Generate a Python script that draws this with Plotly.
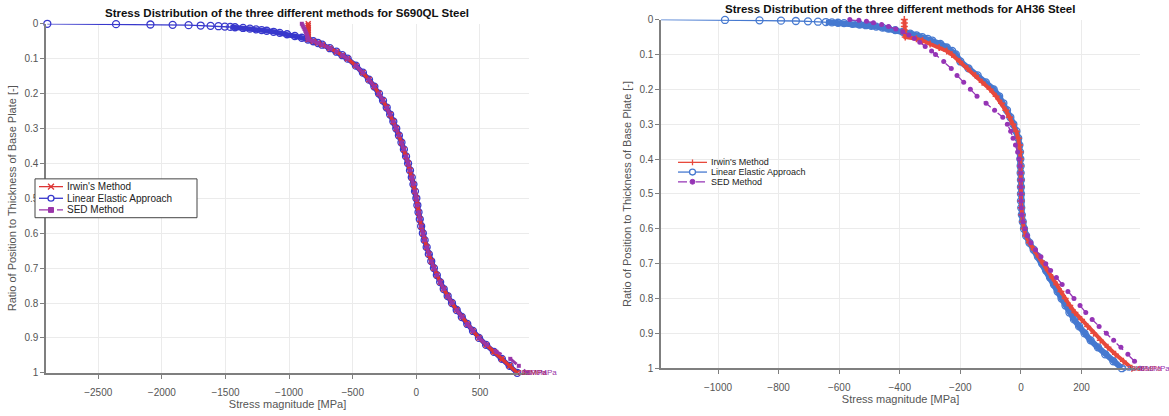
import plotly.graph_objects as go

# ---------------- S690QL steel ----------------
t_s690_linear = [0, 0.001, 0.002, 0.003, 0.004, 0.005, 0.006, 0.007, 0.008, 0.009,
                 0.010, 0.012, 0.014, 0.016, 0.018, 0.020, 0.023, 0.026, 0.030, 0.035,
                 0.040, 0.045, 0.050, 0.055, 0.060, 0.070, 0.080, 0.090, 0.10,
                 0.12, 0.14, 0.16, 0.18, 0.20, 0.22, 0.24, 0.26, 0.28, 0.30,
                 0.32, 0.34, 0.36, 0.38, 0.40, 0.42, 0.44, 0.46, 0.48, 0.50,
                 0.52, 0.54, 0.56, 0.58, 0.60, 0.62, 0.64, 0.66, 0.68, 0.70,
                 0.72, 0.74, 0.76, 0.78, 0.80, 0.82, 0.84, 0.86, 0.88, 0.90,
                 0.92, 0.94, 0.96, 0.98, 1.00]
s690_linear = [-2900, -2360, -2090, -1915, -1790, -1695, -1617, -1555, -1505, -1462,
               -1425, -1362, -1308, -1260, -1216, -1176, -1122, -1074, -1016, -955,
               -900, -852, -810, -773, -740, -680, -628, -582, -540,
               -475, -420, -372, -330, -294, -262, -233, -206, -181, -158,
               -137, -117, -98, -81, -65, -50, -36, -23, -11, 0,
               8, 17, 27, 38, 51, 65, 81, 98, 117, 138,
               161, 187, 215, 246, 280, 317, 357, 400, 445, 492,
               548, 610, 672, 733, 793]

t_s690_irwin = [0, 0.005, 0.010, 0.015, 0.020, 0.025, 0.030, 0.035, 0.040, 0.045,
                0.050, 0.055, 0.060, 0.070, 0.080, 0.090, 0.10,
                0.12, 0.14, 0.16, 0.18, 0.20, 0.22, 0.24, 0.26, 0.28, 0.30,
                0.32, 0.34, 0.36, 0.38, 0.40, 0.42, 0.44, 0.46, 0.48, 0.50,
                0.52, 0.54, 0.56, 0.58, 0.60, 0.62, 0.64, 0.66, 0.68, 0.70,
                0.72, 0.74, 0.76, 0.78, 0.80, 0.82, 0.84, 0.86, 0.88, 0.90,
                0.92, 0.94, 0.96, 0.98, 1.00]
s690_irwin = [-850, -850, -850, -850, -850, -850, -850, -850, -850, -850,
              -810, -773, -740, -680, -628, -582, -540,
              -475, -420, -372, -330, -294, -262, -233, -206, -181, -158,
              -137, -117, -98, -81, -65, -50, -36, -23, -11, 0,
              8, 17, 27, 38, 51, 65, 81, 98, 117, 138,
              161, 187, 215, 246, 280, 317, 357, 400, 445, 492,
              548, 610, 672, 733, 793]

t_s690_sed = [-0.050, -0.040, -0.030, -0.020, -0.010, 0, 0.005, 0.010, 0.015, 0.020,
              0.025, 0.030, 0.035, 0.040, 0.045,
              0.050, 0.055, 0.060, 0.070, 0.080, 0.090, 0.10,
              0.12, 0.14, 0.16, 0.18, 0.20, 0.22, 0.24, 0.26, 0.28, 0.30,
              0.32, 0.34, 0.36, 0.38, 0.40, 0.42, 0.44, 0.46, 0.48, 0.50,
              0.52, 0.54, 0.56, 0.58, 0.60, 0.62, 0.64, 0.66, 0.68, 0.70,
              0.72, 0.74, 0.76, 0.78, 0.80, 0.82, 0.84, 0.86, 0.88, 0.90,
              0.92, 0.94, 0.96, 0.98, 1.00]
s690_sed = [-965, -955, -943, -930, -915, -900, -893, -886, -879, -873,
            -867, -862, -858, -854, -851,
            -810, -773, -740, -680, -628, -582, -540,
            -475, -420, -372, -330, -294, -262, -233, -206, -181, -158,
            -137, -117, -98, -81, -65, -50, -36, -23, -11, 0,
            8, 17, 27, 38, 51, 65, 81, 98, 117, 138,
            161, 187, 215, 246, 280, 317, 357, 400, 445, 492,
            555, 630, 738, 805, 870]

# ---------------- AH36 steel ----------------
t_ah36_linear = [0, 0.001, 0.002, 0.003, 0.004, 0.005, 0.006, 0.007, 0.008, 0.009,
                 0.010, 0.012, 0.014, 0.016, 0.018, 0.020, 0.023, 0.026, 0.030, 0.035,
                 0.040, 0.045, 0.050, 0.055, 0.060, 0.070, 0.080, 0.090, 0.10,
                 0.12, 0.14, 0.16, 0.18, 0.20, 0.22, 0.24, 0.26, 0.28, 0.30,
                 0.32, 0.34, 0.36, 0.38, 0.40, 0.42, 0.44, 0.46, 0.48, 0.50,
                 0.52, 0.54, 0.56, 0.58, 0.60, 0.62, 0.64, 0.66, 0.68, 0.70,
                 0.72, 0.74, 0.76, 0.78, 0.80, 0.82, 0.84, 0.86, 0.88, 0.90,
                 0.92, 0.94, 0.96, 0.98, 1.00]
ah36_linear = [-1190, -977, -863, -792, -743, -703, -670, -644, -624, -604,
               -584, -556, -533, -512, -494, -478, -457, -438, -415, -390,
               -366, -345, -326, -308, -293, -266, -245, -227, -215,
               -200, -173, -143, -116, -90, -72, -58, -46, -35, -25,
               -15, -9, -5, -3, -2, -1, -1, 0, 0, 0,
               0, 1, 3, 6, 10, 17, 28, 42, 56, 70,
               83, 96, 109, 121, 134, 147, 160, 175, 192, 210,
               230, 254, 278, 305, 333]

t_ah36_irwin = [0, 0.010, 0.020, 0.030, 0.040, 0.050, 0.055, 0.060, 0.070, 0.080, 0.090, 0.10,
                0.12, 0.14, 0.16, 0.18, 0.20, 0.22, 0.24, 0.26, 0.28, 0.30,
                0.32, 0.34, 0.36, 0.38, 0.40, 0.42, 0.44, 0.46, 0.48, 0.50,
                0.52, 0.54, 0.56, 0.58, 0.60, 0.62, 0.64, 0.66, 0.68, 0.70,
                0.72, 0.74, 0.76, 0.78, 0.80, 0.82, 0.84, 0.86, 0.88, 0.90,
                0.92, 0.94, 0.96, 0.98, 1.00]
ah36_irwin = [-385, -385, -385, -385, -385, -382, -345, -325, -300, -270, -245, -228,
              -202, -176, -150, -128, -102, -82, -64, -50, -38, -27,
              -16, -9, -5, -3, -2, -1, -1, 0, 0, 0,
              0, 1, 3, 6, 10, 17, 28, 43, 60, 76,
              90, 104, 118, 132, 146, 161, 178, 200, 220, 240,
              262, 287, 312, 338, 366]

t_ah36_sed = [0, 0.002, 0.005, 0.009, 0.014, 0.020, 0.027, 0.035, 0.044, 0.054,
              0.065, 0.077, 0.090, 0.10,
              0.12, 0.14, 0.16, 0.18, 0.20, 0.22, 0.24, 0.26, 0.28, 0.30,
              0.32, 0.34, 0.36, 0.38, 0.40, 0.42, 0.44, 0.46, 0.48, 0.50,
              0.52, 0.54, 0.56, 0.58, 0.60, 0.62, 0.64, 0.66, 0.68, 0.70,
              0.72, 0.74, 0.76, 0.78, 0.80, 0.82, 0.84, 0.86, 0.88, 0.90,
              0.92, 0.94, 0.96, 0.98, 1.00]
ah36_sed = [-565, -535, -510, -487, -460, -437, -413, -390, -370, -352,
            -334, -316, -295, -282,
            -255, -230, -211, -189, -167, -145, -115, -87, -60, -45,
            -34, -26, -18, -11, -6, -3, -1, 0, 0, 0,
            0, 1, 3, 7, 13, 21, 33, 48, 66, 82,
            98, 117, 136, 155, 175, 195, 214, 235, 258, 282,
            306, 330, 353, 375, 393]

method_names = ["Irwin's Method", "Linear Elastic Approach", "SED Method"]

# tick positions along the thickness axis
y_ticks = [0, 0.1, 0.2, 0.3, 0.4, 0.5, 0.6, 0.7, 0.8, 0.9, 1]
y_tick_text = ["0", "0.1", "0.2", "0.3", "0.4", "0.5", "0.6", "0.7", "0.8", "0.9", "1"]
x_ticks_s690 = [-2500, -2000, -1500, -1000, -500, 0, 500]
x_ticks_ah36 = [-1000, -800, -600, -400, -200, 0, 200]

W, H = 1169, 416
FONT = "Liberation Sans, Arial, Helvetica, sans-serif"
GRID = "#ebebeb"
AXIS = "#7f7f7f"
LABEL = "#555555"
TICKFONT = dict(family=FONT, size=10, color=LABEL)

c_red_l, c_blue_l, c_pur_l = "#dd3535", "#3838cc", "#9a35a8"
c_red_r, c_blue_r, c_pur_r = "#e8493c", "#4679d0", "#9534b5"

fig = go.Figure()


def add_series(x, y, xa, ya, color, width, marker, dash="solid", band_from=None, band_width=0):
    """Draw one method curve; where the samples crowd together a wide stroke forms the band."""
    if band_from is not None:
        fig.add_trace(go.Scatter(
            x=x[band_from:], y=y[band_from:], mode="lines", showlegend=False,
            line=dict(color=color, width=band_width), hoverinfo="skip",
            xaxis=xa, yaxis=ya))
    fig.add_trace(go.Scatter(
        x=x, y=y, mode="lines+markers", showlegend=False,
        line=dict(color=color, width=width, dash=dash), marker=marker,
        cliponaxis=False, xaxis=xa, yaxis=ya))


# left panel: S690QL
add_series(s690_linear, t_s690_linear, "x", "y", c_blue_l, 1.3,
           dict(symbol="circle-open", size=7, line=dict(color=c_blue_l, width=1.3)),
           band_from=9, band_width=5)
add_series(s690_irwin, t_s690_irwin, "x", "y", c_red_l, 3.5,
           dict(symbol="x-thin", size=5, line=dict(color=c_red_l, width=1.5)))
add_series(s690_sed, t_s690_sed, "x", "y", c_pur_l, 3,
           dict(symbol="square", size=4, color=c_pur_l), dash="dash")

# right panel: AH36
add_series(ah36_linear, t_ah36_linear, "x2", "y2", c_blue_r, 1.3,
           dict(symbol="circle-open", size=7, line=dict(color=c_blue_r, width=1.3)),
           band_from=7, band_width=6)
add_series(ah36_irwin, t_ah36_irwin, "x2", "y2", c_red_r, 4,
           dict(symbol="cross-thin", size=5, line=dict(color=c_red_r, width=1.5)))
add_series(ah36_sed, t_ah36_sed, "x2", "y2", c_pur_r, 1.3,
           dict(symbol="circle", size=5, color=c_pur_r), dash="dash")

# end-of-curve value labels
ends = [
    ("x", "y", s690_linear, t_s690_linear, c_blue_l),
    ("x", "y", s690_irwin, t_s690_irwin, c_red_l),
    ("x", "y", s690_sed, t_s690_sed, c_pur_l),
    ("x2", "y2", ah36_linear, t_ah36_linear, c_blue_r),
    ("x2", "y2", ah36_irwin, t_ah36_irwin, c_red_r),
    ("x2", "y2", ah36_sed, t_ah36_sed, c_pur_r),
]
for xr, yr, vals, ts, col in ends:
    fig.add_annotation(x=vals[-1], y=ts[-1], xref=xr, yref=yr,
                       text=f"{vals[-1]:.0f}MPa", showarrow=False,
                       xanchor="left", yanchor="middle", xshift=-1, borderpad=0,
                       font=dict(family=FONT, size=8, color=col))


# compact legends drawn in paper space
def px(x):
    return x / W


def py(y):
    return 1 - y / H


def legend_block(x_line0, x_line1, x_text, ys, colors, kinds, font_size, box=None):
    if box is not None:
        bx0, by0, bx1, by1 = box
        fig.add_shape(type="rect", xref="paper", yref="paper",
                      x0=px(bx0), x1=px(bx1), y0=py(by1), y1=py(by0),
                      line=dict(color="#444444", width=1), fillcolor="white")
    xm = (x_line0 + x_line1) / 2
    for name, yy, col, kind in zip(method_names, ys, colors, kinds):
        dash = "dash" if kind in ("square", "dot") else "solid"
        fig.add_shape(type="line", xref="paper", yref="paper",
                      x0=px(x_line0), x1=px(x_line1), y0=py(yy), y1=py(yy),
                      line=dict(color=col, width=1.3, dash=dash))
        r = 3
        if kind == "x":
            for s in (1, -1):
                fig.add_shape(type="line", xref="paper", yref="paper",
                              x0=px(xm - r), x1=px(xm + r), y0=py(yy - s * r), y1=py(yy + s * r),
                              line=dict(color=col, width=1.3))
        elif kind == "plus":
            fig.add_shape(type="line", xref="paper", yref="paper",
                          x0=px(xm), x1=px(xm), y0=py(yy - r), y1=py(yy + r),
                          line=dict(color=col, width=1.3))
        elif kind == "circle":
            fig.add_shape(type="circle", xref="paper", yref="paper",
                          x0=px(xm - r), x1=px(xm + r), y0=py(yy + r), y1=py(yy - r),
                          line=dict(color=col, width=1.3), fillcolor="white")
        elif kind == "square":
            fig.add_shape(type="rect", xref="paper", yref="paper",
                          x0=px(xm - 2.5), x1=px(xm + 2.5), y0=py(yy + 2.5), y1=py(yy - 2.5),
                          line=dict(color=col, width=1), fillcolor=col)
        elif kind == "dot":
            fig.add_shape(type="circle", xref="paper", yref="paper",
                          x0=px(xm - 2.5), x1=px(xm + 2.5), y0=py(yy + 2.5), y1=py(yy - 2.5),
                          line=dict(color=col, width=1), fillcolor=col)
        fig.add_annotation(x=px(x_text), y=py(yy), xref="paper", yref="paper",
                           text=name, showarrow=False, xanchor="left", yanchor="middle",
                           font=dict(family=FONT, size=font_size, color="#222222"))


legend_block(39, 63, 65, [186, 198, 210], [c_red_l, c_blue_l, c_pur_l],
             ["x", "circle", "square"], 10, box=(35, 178, 197, 218))
legend_block(678, 707, 709, [161, 171, 181], [c_red_r, c_blue_r, c_pur_r],
             ["plus", "circle", "dot"], 9)

axis_common = dict(showgrid=True, gridcolor=GRID, gridwidth=1, zeroline=False,
                   showline=True, linecolor=AXIS, linewidth=1.5,
                   ticks="outside", ticklen=4, tickcolor=AXIS, tickwidth=1,
                   tickfont=TICKFONT, mirror=False)
title_font = dict(family=FONT, size=11, color=LABEL)

fig.update_layout(
    width=W, height=H,
    margin=dict(l=0, r=0, t=0, b=0),
    paper_bgcolor="white", plot_bgcolor="white",
    showlegend=False,
    xaxis=dict(domain=[0.0394, 0.4525], range=[-2910, 885], anchor="y",
               tickvals=x_ticks_s690, ticklabelstandoff=5,
               title=dict(text="Stress magnitude [MPa]", standoff=2, font=title_font),
               **axis_common),
    yaxis=dict(domain=[0.092, 0.956], range=[1, 0], anchor="x",
               tickvals=y_ticks, ticktext=y_tick_text,
               title=dict(text="Ratio of Position to Thickness of Base Plate [-]", standoff=6,
                          font=title_font),
               **axis_common),
    xaxis2=dict(domain=[0.5655, 0.9752], range=[-1188, 393], anchor="y2",
                tickvals=x_ticks_ah36, ticklabelstandoff=5,
                title=dict(text="Stress magnitude [MPa]", standoff=2, font=title_font),
                **axis_common),
    yaxis2=dict(domain=[0.1034, 0.9663], range=[1, 0], anchor="x2",
                tickvals=y_ticks, ticktext=y_tick_text,
                title=dict(text="Ratio of Position to Thickness of Base Plate [-]", standoff=6,
                           font=title_font),
                **axis_common),
)

fig.add_annotation(x=0.2459, y=1 - 7 / H, xref="paper", yref="paper",
                   text="<b>Stress Distribution of the three different methods for S690QL Steel</b>",
                   showarrow=False, xanchor="center", yanchor="middle",
                   font=dict(family=FONT, size=11.5, color="#111111"))
fig.add_annotation(x=0.7703, y=1 - 3.5 / H, xref="paper", yref="paper",
                   text="<b>Stress Distribution of the three different methods for AH36 Steel</b>",
                   showarrow=False, xanchor="center", yanchor="middle",
                   font=dict(family=FONT, size=11.5, color="#111111"))

fig.write_html("out.html")
